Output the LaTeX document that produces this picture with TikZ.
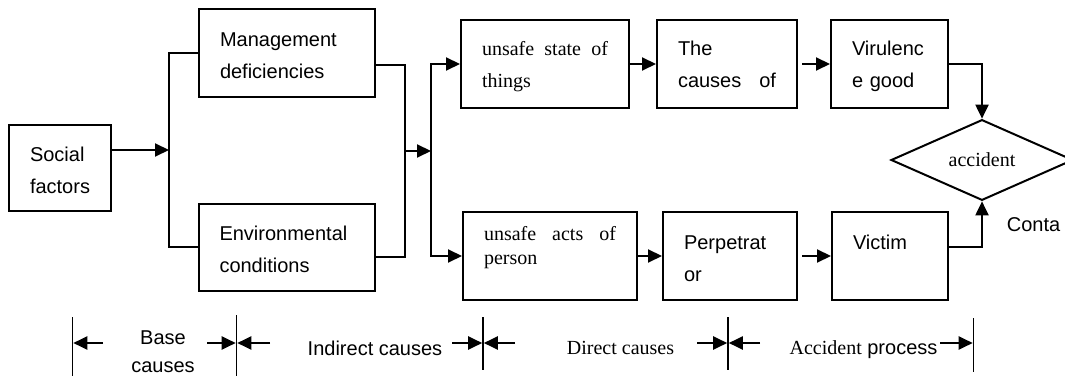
\documentclass[tikz,border=0pt]{standalone}
\usepackage{fontspec}
\setmainfont{Liberation Serif}
\setsansfont{Liberation Sans}
\usepackage{tikz}
\usetikzlibrary{arrows.meta,shapes.geometric,positioning}

\begin{document}
\begin{tikzpicture}[x=0.5pt, y=-0.5pt,
  box/.style={draw, line width=1pt, inner xsep=10.5pt, inner ysep=0pt, align=left,
    font=\sffamily\fontsize{10}{16}\selectfont, text height=18.5pt, text depth=25pt},
  serifbox/.style={box, font=\rmfamily\fontsize{10}{16}\selectfont},
  link/.style={line width=1pt},
  arr/.style={link, -{Triangle[length=7pt,width=6.5pt]}},
  bar/.style={line width=0.9pt},
  stage/.style={font=\sffamily\fontsize{10}{14}\selectfont, align=center, inner sep=0pt}
]
\useasboundingbox (0,0) rectangle (1065,379);

% Causes
\node[box, text width=30pt, text depth=24.5pt] (social) at (60,168) {Social\\factors};
\node[box, text width=67pt, text height=19pt] (mgmt) at (287,53) {Management\\deficiencies};
\node[box, text width=67pt, text height=18pt] (env) at (286.5,247.5) {Environmental\\conditions};

% Upper chain
\node[serifbox, text width=63pt, text height=18pt, text depth=26pt] (state) at (545,64) {unsafe\hfill state\hfill of\\things};
\node[box, text width=49pt, text height=18pt, text depth=26pt] (cause) at (727,64) {The\\causes\hfill of};
\node[box, text width=37.5pt, text height=18pt, text depth=26pt] (viru) at (889.5,64) {Virulenc\\e good};

% Lower chain
\node[serifbox, text width=66pt, font=\rmfamily\fontsize{10}{12}\selectfont, text height=14pt, text depth=29.5pt] (acts) at (550,256) {unsafe\hfill acts\hfill of\\person};
\node[box, text width=46pt] (perp) at (730,256) {Perpetrat\\or};
\node[box, text width=37pt] (victim) at (890,256) {Victim};

% Accident
\node[draw, diamond, line width=1pt, minimum width=91pt, minimum height=34.5pt, inner sep=0pt, font=\rmfamily] (acc) at (982,160) {accident};
\node[font=\sffamily, inner sep=0pt] (conta) at (1033.5,225) {Conta};

% Connectors
\coordinate (j1) at (169,150);
\coordinate (j2) at (405,151);
\coordinate (j3) at (431,151);
\coordinate (j2t) at (405,65);
\coordinate (j2b) at (405,257);
\draw[arr] (social.east |- j1) -- (j1);
\draw[link] (mgmt.west) -| (j1) |- (env.west);
\draw[link] (mgmt.east |- j2t) -- (j2t) -- (j2b) -- (env.east |- j2b);
\draw[arr] (j2) -- (j3);
\draw[arr] (j3) |- (state.west);
\draw[arr] (j3) |- (acts.west);
\draw[arr] (state) -- (cause);
\draw[arr, shorten <=2pt] (cause) -- (viru);
\draw[arr] (viru.east) -| (acc.north);
\draw[arr] (acts) -- (perp);
\draw[arr, shorten <=2pt] (perp) -- (victim);
\draw[arr] ([yshift=4.5pt]victim.east) -| (acc.south);

% Time scale
\foreach \n/\x/\yt/\yb in {1/72.5/317/376, 2/236.5/315/376, 3/483/317/370, 4/728/317/370, 5/973.5/318/372} {
  \coordinate (t\n) at (\x,\yt);
  \coordinate (b\n) at (\x,\yb);
  \draw[bar] (t\n) -- (b\n);
}
\foreach \n/\x/\k in {1/103/1, 2/207/2, 3/270/2, 4/452/3, 5/515/3, 6/697/4, 7/760/4, 8/940/5} {
  \coordinate (s\n) at (\x,343);
  \draw[arr, shorten >=0.4pt] (s\n) -- (s\n -| t\k);
}
\node[stage] (base) at (163,352) {Base\\causes};
\node[stage] (indirect) at (375,348) {Indirect causes};
\node[stage, font=\rmfamily] (direct) at (620.5,348) {Direct causes};
\node[stage] (process) at (863.5,350) {{\rmfamily Accident} process};
\end{tikzpicture}
\end{document}
